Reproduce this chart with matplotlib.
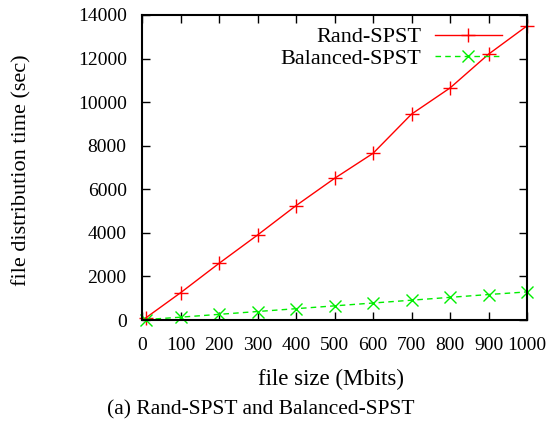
"""File distribution time vs file size for Rand-SPST and Balanced-SPST."""

import matplotlib

matplotlib.use("Agg")
import matplotlib.pyplot as plt

file_size = [10, 100, 200, 300, 400, 500, 600, 700, 800, 900, 1000]
rand_spst = [100, 1250, 2600, 3900, 5250, 6500, 7650, 9450, 10650, 12200, 13500]
balanced_spst = [20, 130, 260, 390, 520, 650, 780, 910, 1040, 1170, 1290]

x_ticks = [0, 100, 200, 300, 400, 500, 600, 700, 800, 900, 1000]
y_ticks = [0, 2000, 4000, 6000, 8000, 10000, 12000, 14000]

plt.rcParams["font.family"] = ["Liberation Serif", "DejaVu Serif"]

fig = plt.figure(figsize=(5.58, 4.28), dpi=100)
ax = fig.add_axes([0.2545, 0.2523, 0.69, 0.7127])

ax.plot(file_size, rand_spst, color="red", linestyle="-", linewidth=1.0,
        marker="+", markersize=10, markeredgewidth=1.0, label="Rand-SPST",
        clip_on=False)
ax.plot(file_size, balanced_spst, color="#00ee00", linestyle=(0, (4, 3)),
        linewidth=1.0, marker="x", markersize=9, markeredgewidth=1.0,
        label="Balanced-SPST", clip_on=False)

ax.set_xlim(0, 1000)
ax.set_ylim(0, 14000)
ax.set_xticks(x_ticks)
ax.set_yticks(y_ticks)
ax.tick_params(direction="in", top=True, right=True, length=6, width=1,
               labelsize=14)
ax.tick_params(axis="x", pad=12)
ax.tick_params(axis="y", pad=11)
for s in ax.spines.values():
    s.set_linewidth(1.5)

ax.set_xlabel("file size (Mbits)", fontsize=16.5)
ax.set_ylabel("file distribution time (sec)", fontsize=16)
ax.xaxis.set_label_coords(0.49, -0.16)
ax.yaxis.set_label_coords(-0.287, 0.49)

ax.legend(loc="upper right", frameon=False, markerfirst=False, fontsize=16,
          handlelength=3.0, handletextpad=0.6, labelspacing=0.05,
          borderaxespad=0.0, bbox_to_anchor=(0.957, 0.99))

fig.text(0.468, 0.042, "(a) Rand-SPST and Balanced-SPST", ha="center",
         va="center", fontsize=15.5)

fig.savefig("out.png", dpi=100)
plt.close(fig)
